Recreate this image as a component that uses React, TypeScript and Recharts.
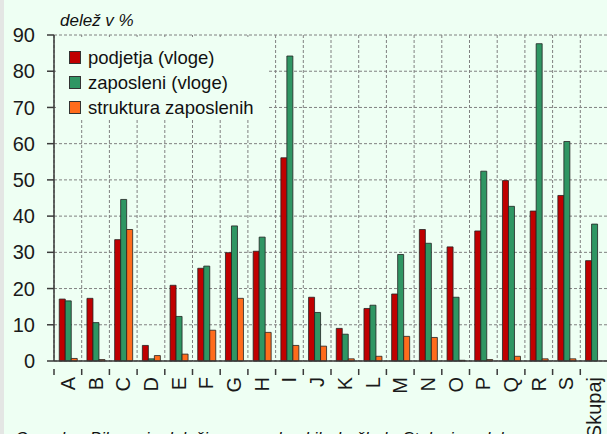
import { BarChart, Bar, XAxis, YAxis, CartesianGrid, Legend } from "recharts";

const categories = ["A", "B", "C", "D", "E", "F", "G", "H", "I", "J", "K", "L", "M", "N", "O", "P", "Q", "R", "S", "Skupaj"];
const podjetja = [17.1, 17.3, 33.5, 4.3, 20.9, 25.6, 29.9, 30.3, 56.1, 17.6, 9.0, 14.5, 18.5, 36.3, 31.5, 35.9, 49.8, 41.4, 45.7, 27.7];
const zaposleni = [16.6, 10.6, 44.6, 0.6, 12.3, 26.2, 37.3, 34.2, 84.2, 13.4, 7.4, 15.4, 29.4, 32.5, 17.6, 52.4, 42.7, 87.6, 60.6, 37.8];
const struktura = [0.7, 0.4, 36.3, 1.5, 1.9, 8.5, 17.3, 7.9, 4.3, 4.1, 0.6, 1.3, 6.8, 6.5, 0.2, 0.4, 1.3, 0.6, 0.6, null];
const yTicks = [0, 10, 20, 30, 40, 50, 60, 70, 80, 90];

const series = [
  { key: "podjetja", name: "podjetja (vloge)", color: "#c00000" },
  { key: "zaposleni", name: "zaposleni (vloge)", color: "#2f9663" },
  { key: "struktura", name: "struktura zaposlenih", color: "#ff6c1c" }
];

const data = categories.map((name, i) => ({
  name,
  podjetja: podjetja[i],
  zaposleni: zaposleni[i],
  struktura: struktura[i]
}));

const BG = "#eefff3";
const FONT = "'Liberation Sans', Arial, sans-serif";

// vertical grid lines sit on the category boundaries, not the centres
const boundaryLines = ({ offset }: any) => {
  const step = offset.width / categories.length;
  return categories.map((_, i) => offset.left + i * step).concat([offset.left + offset.width]);
};

const RotatedTick = (props: any) => {
  const { x, y, payload, width, visibleTicksCount } = props;
  const half = width / visibleTicksCount / 2;
  return (
    <g>
      <line x1={x - half} x2={x - half} y1={y} y2={y + 6} stroke="#3a3a3a" strokeWidth={1.5} />
      <text
        x={0}
        y={0}
        transform={`translate(${x + 7},${y + 8}) rotate(-90)`}
        textAnchor="end"
        fontSize={20}
        fontFamily={FONT}
        fill="#1a1a1a"
      >
        {payload.value}
      </text>
    </g>
  );
};

const LegendBox = () => (
  <div style={{ background: BG, padding: "8px 6px 0 13px", width: 194, fontFamily: FONT }}>
    {series.map((s) => (
      <div key={s.key} style={{ display: "flex", alignItems: "center", height: 25 }}>
        <span
          style={{
            display: "inline-block",
            width: 10,
            height: 11,
            background: s.color,
            border: "1px solid #333",
            marginRight: 7
          }}
        />
        <span style={{ fontSize: 18.5, color: "#111", whiteSpace: "nowrap" }}>{s.name}</span>
      </div>
    ))}
  </div>
);

export default function App() {
  return (
    <div
      style={{
        position: "fixed",
        left: 0,
        top: 0,
        width: 607,
        height: 434,
        overflow: "hidden",
        background: BG,
        fontFamily: FONT
      }}
    >
      <div style={{ position: "absolute", left: 0, top: 0, width: 4, height: 434, background: "#e4e6e4" }} />
      <div
        style={{
          position: "absolute",
          left: 60,
          top: 11,
          fontSize: 17,
          fontStyle: "italic",
          color: "#111"
        }}
      >
        delež v %
      </div>
      <BarChart
        width={612}
        height={434}
        data={data}
        margin={{ top: 35, right: 4, left: 0, bottom: 0 }}
        barCategoryGap="19%"
        barGap={0}
      >
        <CartesianGrid stroke="#808080" strokeDasharray="3 2" verticalCoordinatesGenerator={boundaryLines} />
        <XAxis
          dataKey="name"
          height={73}
          interval={0}
          tickLine={false}
          stroke="#3a3a3a"
          strokeWidth={1.5}
          tick={<RotatedTick />}
        />
        <YAxis
          width={54}
          domain={[0, 90]}
          ticks={yTicks}
          tickSize={7}
          tickMargin={12}
          stroke="#3a3a3a"
          strokeWidth={1.5}
          tick={{ fontSize: 20, fill: "#1a1a1a", fontFamily: FONT }}
        />
        <Legend
          layout="vertical"
          align="center"
          verticalAlign="middle"
          wrapperStyle={{ left: 56, top: 37, width: "auto" }}
          content={<LegendBox />}
        />
        {series.map((s) => (
          <Bar
            key={s.key}
            dataKey={s.key}
            name={s.name}
            fill={s.color}
            stroke="#222"
            strokeWidth={0.8}
            isAnimationActive={false}
          />
        ))}
      </BarChart>
      <div
        style={{
          position: "absolute",
          left: 15,
          top: 429,
          fontSize: 17,
          fontStyle: "italic",
          color: "#111",
          whiteSpace: "nowrap"
        }}
      >
        Opomba: Bilo so je deleži v gospodarskih družbah. Stolpci so dolo
      </div>
    </div>
  );
}
